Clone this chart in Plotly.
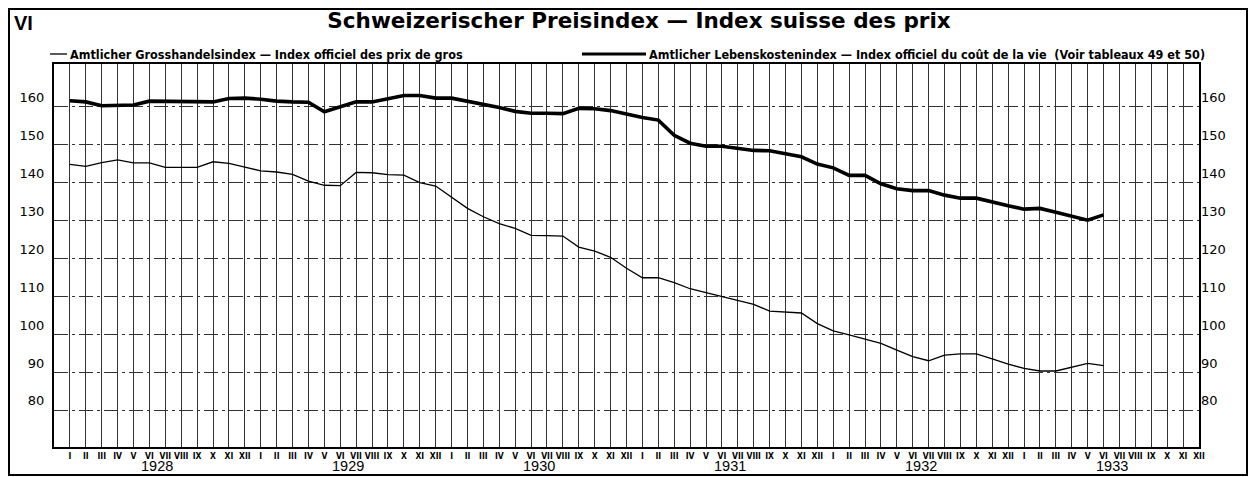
import plotly.graph_objects as go

# ---- data -------------------------------------------------------------
months = ["I", "II", "III", "IV", "V", "VI", "VII", "VIII", "IX", "X", "XI", "XII"]
years = ["1928", "1929", "1930", "1931", "1932", "1933"]

# Amtlicher Grosshandelsindex (thin line), monthly Jan 1928 - Jun 1933
wholesale = [144.8, 144.3, 145.3, 146.0, 145.2, 145.2, 144.0, 144.0, 144.0, 145.5, 145.1, 144.1,
             143.1, 142.8, 142.2, 140.4, 139.3, 139.2, 142.7, 142.6, 142.1, 142.0, 140.0, 139.1,
             136.2, 133.2, 131.0, 129.2, 127.9, 126.1, 126.0, 125.9, 123.0, 121.9, 120.3, 117.4,
             114.9, 114.9, 113.6, 112.0, 111.0, 110.0, 109.0, 107.9, 106.1, 105.9, 105.6, 102.8,
             100.9, 99.8, 98.8, 97.6, 95.8, 94.1, 93.0, 94.5, 94.8, 94.8, 93.5, 92.1,
             91.0, 90.3, 90.3, 91.3, 92.3, 91.7]

# Amtlicher Lebenskostenindex (thick line), monthly Jan 1928 - Jun 1933
living = [161.6, 161.3, 160.3, 160.3, 160.5, 161.5, 161.5, 161.3, 161.3, 161.3, 162.2, 162.3,
          162.0, 161.5, 161.3, 161.2, 158.7, 160.0, 161.3, 161.3, 162.2, 163.0, 163.0, 162.3,
          162.3, 161.5, 160.6, 159.8, 158.8, 158.3, 158.3, 158.2, 159.6, 159.5, 159.0, 158.0,
          157.2, 156.5, 152.5, 150.4, 149.6, 149.6, 149.1, 148.5, 148.4, 147.6, 146.8, 144.9,
          143.9, 141.9, 141.9, 139.7, 138.4, 137.9, 137.9, 136.7, 135.9, 135.9, 134.8, 133.9,
          133.0, 133.2, 132.2, 131.1, 130.1, 131.5]

y_ticks = [80, 90, 100, 110, 120, 130, 140, 150, 160]

title = "Schweizerischer Preisindex \u2014 Index suisse des prix"
legend1 = "Amtlicher Grosshandelsindex \u2014 Index officiel des prix de gros"
legend2 = "Amtlicher Lebenskostenindex \u2014 Index officiel du co\u00fbt de la vie  (Voir tableaux 49 et 50)"

# ---- geometry (page has an 8px body margin) ---------------------------
OFF = 8
W, H = 1259 - OFF, 477 - OFF
L, R, T, B = 54 - OFF, 1259 - 1199, 64 - OFF, 477 - 447
PW, PH = W - L - R, H - T - B


def px(sx):
    return (sx - OFF - L) / PW


def py(sy):
    return (H - B - (sy - OFF)) / PH


n_months = len(months) * len(years)
month_idx = list(range(n_months))
tick_text = months * len(years)

SANS = "Liberation Sans, Arial, sans-serif"
WIDE = "DejaVu Sans, sans-serif"
COND = "DejaVu Sans Condensed, DejaVu Sans, sans-serif"

fig = go.Figure()
fig.add_trace(go.Scatter(x=month_idx[:len(wholesale)], y=wholesale, mode="lines",
                         line=dict(color="black", width=1.3), name=legend1, hoverinfo="skip"))
fig.add_trace(go.Scatter(x=month_idx[:len(living)], y=living, mode="lines",
                         line=dict(color="black", width=3.6), name=legend2, hoverinfo="skip"))
fig.add_trace(go.Scatter(x=[None], y=[None], yaxis="y2", showlegend=False))

fig.update_layout(
    width=W, height=H,
    margin=dict(l=L, r=R, t=T, b=B, autoexpand=False),
    paper_bgcolor="white", plot_bgcolor="white",
    showlegend=False,
    title=dict(text=title, x=(639 - OFF) / W, xanchor="center", y=1 - (20 - OFF) / H, yanchor="middle",
               font=dict(family=WIDE, size=21.5, color="black", weight="bold")),
    xaxis=dict(range=[-1, n_months - 1], tickvals=month_idx, ticktext=tick_text,
               showgrid=True, gridcolor="#333", gridwidth=1,
               showline=True, linecolor="black", linewidth=2, mirror=True,
               ticks="", tickangle=0, zeroline=False,
               tickfont=dict(family="Liberation Sans Narrow, DejaVu Sans Condensed, sans-serif",
                             size=8.5, color="black", weight="bold")),
    yaxis=dict(range=[70.24, 171.3], tickvals=y_ticks, ticktext=[str(v) for v in y_ticks],
               showgrid=True, gridcolor="#333", gridwidth=1, griddash="14px,4px,3px,4px",
               showline=True, linecolor="black", linewidth=2, mirror=True,
               ticks="", ticklabelposition="outside top", ticklabelstandoff=5, zeroline=False,
               tickfont=dict(family=WIDE, size=13, color="black")),
    yaxis2=dict(range=[70.24, 171.3], tickvals=y_ticks, ticktext=[str(v) for v in y_ticks],
                overlaying="y", side="right", showgrid=False, zeroline=False,
                ticks="", ticklabelposition="outside top", ticklabelstandoff=1,
                tickfont=dict(family=WIDE, size=13, color="black")),
)

# year labels under the months
for k, yr in enumerate(years):
    fig.add_annotation(x=k * 12 + 5.5, xref="x", y=py(466), yref="paper", text=yr,
                       showarrow=False, yanchor="middle", xanchor="center",
                       font=dict(family=SANS, size=14.5, color="black"))

# plate number
fig.add_annotation(x=px(12), xref="paper", y=py(23), yref="paper", text="VI",
                   showarrow=False, xanchor="left", yanchor="middle",
                   font=dict(family=SANS, size=20, color="black", weight="bold"))

# legend (manual)
fig.add_shape(type="line", xref="paper", yref="paper", x0=px(50), x1=px(67), y0=py(54), y1=py(54),
              line=dict(color="black", width=1.3))
fig.add_annotation(x=px(68), xref="paper", y=py(54), yref="paper", text=legend1,
                   showarrow=False, xanchor="left", yanchor="middle",
                   font=dict(family=COND, size=12.5, color="black", weight="bold"))
fig.add_shape(type="line", xref="paper", yref="paper", x0=px(582), x1=px(646), y0=py(54), y1=py(54),
              line=dict(color="black", width=3.2))
fig.add_annotation(x=px(647), xref="paper", y=py(54), yref="paper", text=legend2,
                   showarrow=False, xanchor="left", yanchor="middle",
                   font=dict(family=COND, size=12.5, color="black", weight="bold"))

# outer frame of the plate
fig.add_shape(type="rect", xref="paper", yref="paper", x0=px(OFF + 1), x1=px(1247), y0=py(475), y1=py(OFF + 1),
              line=dict(color="black", width=2), layer="below")

fig.write_html("out.html")
